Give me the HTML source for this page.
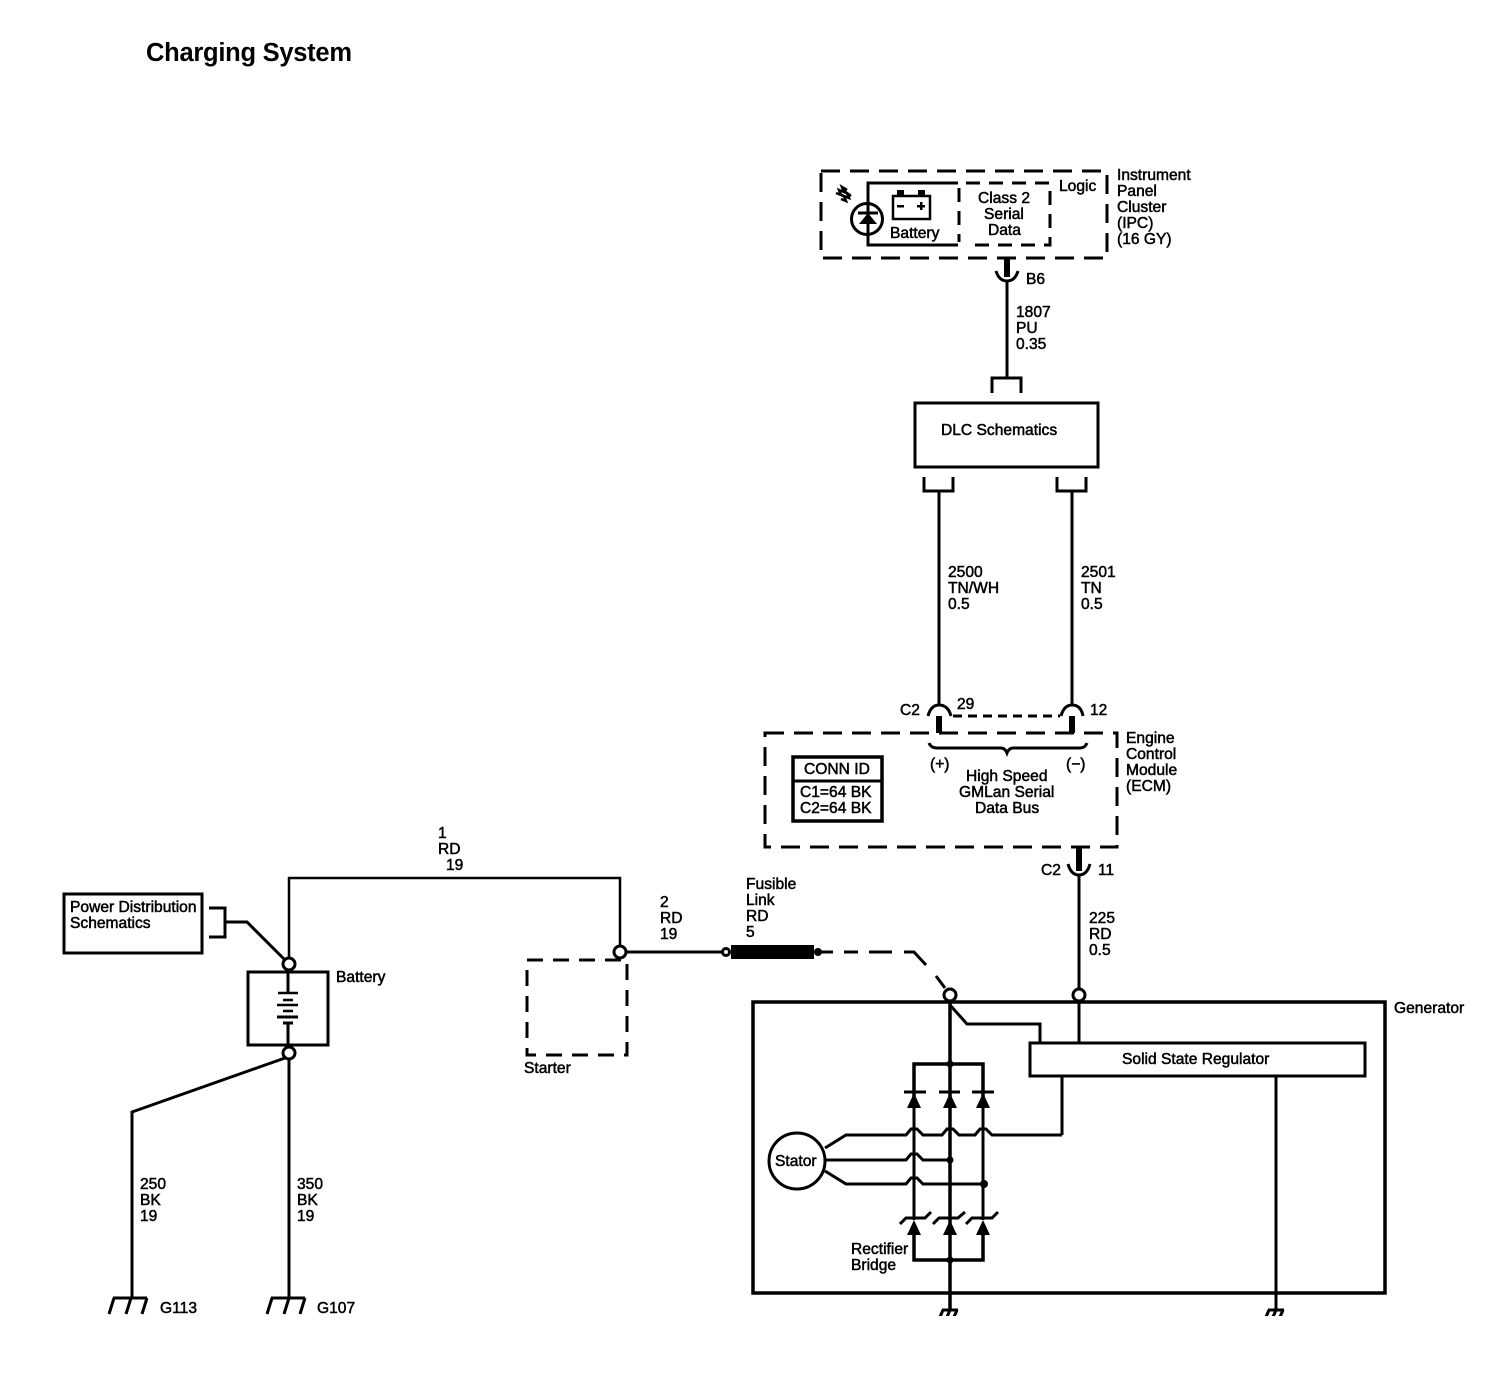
<!DOCTYPE html>
<html><head><meta charset="utf-8"><style>
html,body{margin:0;padding:0;background:#fff}
svg{display:block}
text{font-family:"Liberation Sans",sans-serif;font-size:15.6px;fill:#000;stroke:#000;stroke-width:.5}
.l{fill:none;stroke:#000;stroke-width:3}
.d{fill:none;stroke:#000;stroke-width:3;stroke-dasharray:19 10}
.c{fill:#fff;stroke:#000;stroke-width:3}
.f{fill:#000;stroke:none}
</style></head><body>
<svg width="1502" height="1392" viewBox="0 0 1502 1392" xmlns="http://www.w3.org/2000/svg">
<text x="146" y="61" style="font-size:25.5px;font-weight:bold;stroke-width:0" textLength="206">Charging System</text>

<!-- IPC -->
<rect x="821" y="171" width="286" height="87" class="d"/>
<path class="l" d="M958 183H868V245H958"/>
<path class="l" style="stroke-dasharray:14 9" d="M966 183H1050V245H966"/>
<path class="l" style="stroke-dasharray:14 9" d="M959 188V242"/>
<circle cx="867" cy="219" r="15.5" class="l"/>
<path class="f" d="M868 213l-9 11h18z"/>
<path class="l" d="M858 213H878"/>
<path class="l" style="stroke-width:2.5" d="M836 193l5 2 -2 -5 5 2 -2 -5 5 3M841 199l5 2 -2 -5 5 2 -2 -5 4 3"/>
<rect x="893" y="196" width="37" height="23" fill="none" stroke="#000" stroke-width="2.5"/>
<path class="f" d="M897 190h7v5h-7zM918 190h7v5h-7zM897 205h7v2.5h-7zM917 205h8v2.5h-8zM920 202h2.5v8h-2.5z"/>
<text x="890" y="238">Battery</text>
<text x="978" y="203">Class 2</text>
<text x="984" y="219">Serial</text>
<text x="988" y="235">Data</text>
<text x="1059" y="191">Logic</text>
<text x="1117" y="180">Instrument</text>
<text x="1117" y="196">Panel</text>
<text x="1117" y="212">Cluster</text>
<text x="1117" y="228">(IPC)</text>
<text x="1117" y="244">(16 GY)</text>

<!-- B6 -->
<path class="l" style="stroke-width:6" d="M1007 258V277"/>
<path class="l" d="M996 271Q999 281 1007 281Q1015 281 1018 271M1007 280V378"/>
<text x="1026" y="284">B6</text>
<text x="1016" y="317">1807</text>
<text x="1016" y="333">PU</text>
<text x="1016" y="349">0.35</text>
<path class="l" d="M992 393V378H1021V393"/>

<!-- DLC -->
<rect x="915" y="403" width="183" height="64" class="l"/>
<text x="941" y="435">DLC Schematics</text>
<path class="l" d="M924 477V491H953V477M1057 477V491H1086V477M939 491V705M1072 491V705"/>
<text x="948" y="577">2500</text>
<text x="948" y="593">TN/WH</text>
<text x="948" y="609">0.5</text>
<text x="1081" y="577">2501</text>
<text x="1081" y="593">TN</text>
<text x="1081" y="609">0.5</text>

<!-- C2 top -->
<path class="l" d="M928 716Q931 705 939 705Q948 705 951 716M1061 716Q1064 705 1072 705Q1081 705 1083 716"/>
<path class="l" style="stroke-width:6" d="M939 716V733M1072 716V733"/>
<path class="l" style="stroke-dasharray:9 6" d="M953 716H1060"/>
<text x="900" y="715">C2</text>
<text x="957" y="709">29</text>
<text x="1090" y="715">12</text>

<!-- ECM -->
<rect x="765" y="733" width="352" height="114" class="d"/>
<path class="l" d="M929 743Q931 748 937 748H1001Q1005 748 1007 753Q1009 748 1013 748H1080Q1085 748 1087 743"/>
<text x="930" y="769">(+)</text>
<text x="1066" y="769">(−)</text>
<text x="966" y="781">High Speed</text>
<text x="959" y="797">GMLan Serial</text>
<text x="975" y="813">Data Bus</text>
<text x="1126" y="743">Engine</text>
<text x="1126" y="759">Control</text>
<text x="1126" y="775">Module</text>
<text x="1126" y="791">(ECM)</text>
<rect x="793" y="757" width="89" height="64" class="l" style="stroke-width:3.5"/>
<path class="l" d="M793 781H882"/>
<text x="804" y="774">CONN ID</text>
<text x="800" y="797">C1=64 BK</text>
<text x="800" y="813">C2=64 BK</text>

<!-- C2 bottom -->
<path class="l" style="stroke-width:6" d="M1079 847V871"/>
<path class="l" d="M1068 864Q1071 875 1079 875Q1087 875 1090 864M1079 875V989"/>
<text x="1041" y="875">C2</text>
<text x="1098" y="875">11</text>
<text x="1089" y="923">225</text>
<text x="1089" y="939">RD</text>
<text x="1089" y="955">0.5</text>

<!-- Wire 1 -->
<path class="l" style="stroke-width:2.5" d="M289 958V878H620V946"/>
<text x="438" y="838">1</text>
<text x="438" y="854">RD</text>
<text x="446" y="870">19</text>
<text x="660" y="907">2</text>
<text x="660" y="923">RD</text>
<text x="660" y="939">19</text>
<path class="l" d="M626 952H722"/>
<circle cx="620" cy="952" r="6" class="c"/>
<circle cx="726" cy="952" r="3.5" class="c"/>
<rect class="f" x="731" y="945" width="83" height="14"/>
<circle class="f" cx="818" cy="952" r="4"/>
<path class="l" d="M818 952H833"/>
<path class="l" d="M844 952H858M869 952H892M904 952H914L926 965M936 976L945 988"/>
<text x="746" y="889">Fusible</text>
<text x="746" y="905">Link</text>
<text x="746" y="921">RD</text>
<text x="746" y="937">5</text>
<rect x="527" y="960" width="100" height="95" class="d" style="stroke-dasharray:16 10"/>
<text x="524" y="1073">Starter</text>

<!-- Power dist / battery -->
<rect x="64" y="894" width="138" height="59" class="l"/>
<text x="70" y="912">Power Distribution</text>
<text x="70" y="928">Schematics</text>
<path class="l" d="M209 908H225V937H209M225 922H247L285 960"/>
<rect x="248" y="972" width="80" height="73" class="l"/>
<path class="l" d="M288 972V993M288 1023V1045"/>
<path class="l" style="stroke-width:2.5" d="M278 993H298M283 1000H293M277 1005H298M283 1011H293"/>
<path class="l" d="M277 1017H298M283 1023H293"/>
<circle cx="289" cy="964" r="6" class="c"/>
<circle cx="289" cy="1053" r="6" class="c"/>
<text x="336" y="982">Battery</text>
<path class="l" d="M289 1059V1298M285 1058L132 1112V1298"/>
<text x="140" y="1189">250</text>
<text x="140" y="1205">BK</text>
<text x="140" y="1221">19</text>
<text x="297" y="1189">350</text>
<text x="297" y="1205">BK</text>
<text x="297" y="1221">19</text>
<path class="l" d="M113 1298H147M114 1298L109 1314M131 1298L126 1314M147 1298L142 1314"/>
<path class="l" d="M271 1298H305M272 1298L267 1314M289 1298L284 1314M305 1298L300 1314"/>
<text x="160" y="1313">G113</text>
<text x="317" y="1313">G107</text>

<!-- Generator -->
<rect x="753" y="1002" width="632" height="291" class="l" style="stroke-width:3.5"/>
<text x="1394" y="1013">Generator</text>
<rect x="1030" y="1043" width="335" height="33" class="l"/>
<text x="1122" y="1064">Solid State Regulator</text>
<circle cx="950" cy="995" r="6" class="c"/>
<circle cx="1079" cy="995" r="6" class="c"/>
<path class="l" d="M950 1005L967 1024H1040V1043M1079 1002V1043M1062 1076V1135M1276 1076V1309"/>
<path class="l" style="stroke-width:3.5" d="M950 1002V1311M914 1107V1064H983V1107M914 1234V1260H983V1234"/>
<path class="l" d="M914 1100V1220M983 1100V1220"/>
<path class="l" d="M904 1092H926M939 1092H960M972 1092H994"/>
<path class="f" d="M914 1093l-7 15h14zM950 1093l-7 15h14zM983 1093l-7 15h14zM914 1220l-7 15h14zM950 1220l-7 15h14zM983 1220l-7 15h14z"/>
<path class="l" d="M900 1224L906 1218H925L931 1212M933 1224L939 1218H958L965 1212M966 1224L972 1218H992L998 1212"/>
<circle class="f" cx="950" cy="1064" r="3.5"/>
<circle class="f" cx="950" cy="1260" r="3.5"/>
<circle class="f" cx="950" cy="1160" r="3.5"/>
<circle class="f" cx="984" cy="1184" r="4"/>
<circle cx="797" cy="1161" r="28" class="l"/>
<text x="775" y="1166">Stator</text>
<path class="l" d="M825 1148L846 1135H906L911 1129H917L923 1135H942L947 1129H953L959 1135H975L980 1129H986L992 1135H1062"/>
<path class="l" d="M826 1160H906L911 1154H917L923 1160H950"/>
<path class="l" d="M825 1171L846 1184H906L911 1178H917L923 1184H984"/>
<text x="851" y="1254">Rectifier</text>
<text x="851" y="1270">Bridge</text>
<path class="l" d="M942 1310H958M943 1310L940 1317M950 1310L947 1317M957 1310L954 1317"/>
<path class="l" d="M1268 1310H1284M1269 1310L1266 1317M1276 1310L1273 1317M1283 1310L1280 1317"/>
<rect x="930" y="1316" width="360" height="6" fill="#fff"/>
</svg>
</body></html>
